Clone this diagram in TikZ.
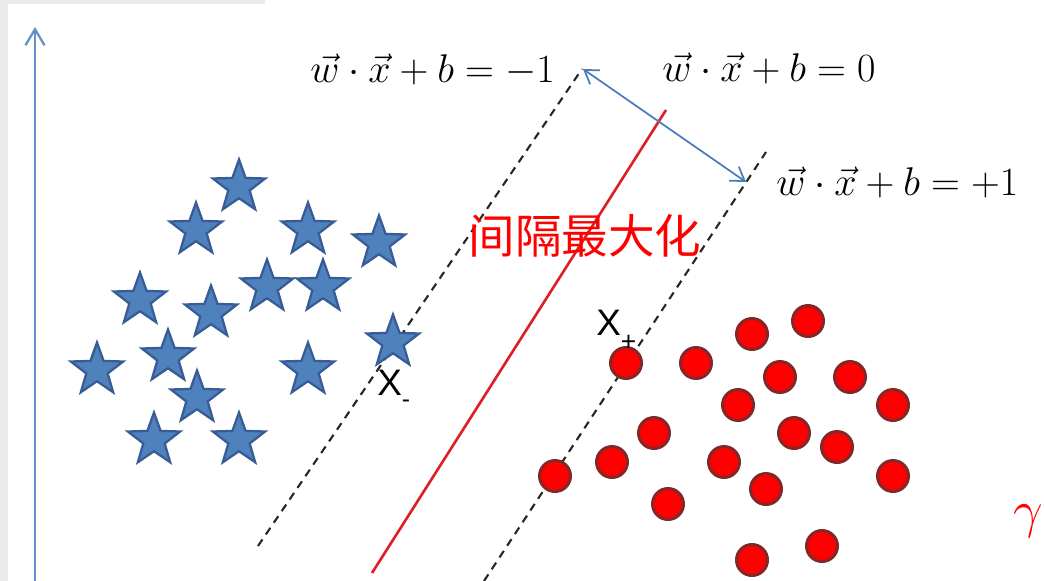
\RequirePackage{fix-cm}
\documentclass[tikz,border=0pt]{standalone}
\usepackage{fontspec}
\setsansfont{Liberation Sans}
\newfontfamily\cjk{Noto Sans CJK SC}
\usetikzlibrary{shapes.geometric,arrows.meta}
\definecolor{axisblue}{RGB}{104,142,202}
\definecolor{starfill}{RGB}{79,129,189}
\definecolor{starline}{RGB}{56,93,150}
\definecolor{dotline}{RGB}{130,40,40}
\definecolor{sepred}{RGB}{222,32,38}
\definecolor{arrblue}{RGB}{74,126,187}
\definecolor{margin}{RGB}{234,234,234}
\tikzset{
  starpt/.style={star, star points=5, star point ratio=2.45, inner sep=0pt, minimum size=1.1cm, fill=starfill, draw=starline, line width=1.3pt},
  dotpt/.style={circle, inner sep=0pt, minimum size=0.62cm, fill=red, draw=dotline, line width=1.7pt},
  eqlabel/.style={inner sep=0pt, font=\fontsize{22.8}{27}\selectfont},
  hyper/.style={dashed, dash pattern=on 4.5pt off 3.5pt, line width=1.2pt, black!85},
  xlabel/.style={inner sep=0pt, font=\sffamily\fontsize{21}{24}\selectfont, anchor=base west},
}
\begin{document}
\begin{tikzpicture}[x=0.02cm, y=-0.02cm]
\useasboundingbox (0,0) rectangle (1044,581);
\fill[white] (0,0) rectangle (1044,581);
\fill[margin] (0,0) rectangle (8,581);
\fill[margin] (0,0) rectangle (265,4);
% axis
\coordinate (ax0) at (35,581);
\coordinate (ax1) at (35,27);
\draw[axisblue, line width=1.3pt, -{Straight Barb[length=0.32cm,width=0.38cm,line width=1.3pt]}] (ax0) -- (ax1);
% hyperplanes
\coordinate (lm0) at (258,546);
\coordinate (lm1) at (582,69);
\coordinate (lp0) at (484,581);
\coordinate (lp1) at (766,152);
\coordinate (l00) at (372,573);
\coordinate (l01) at (666,110);
\draw[hyper] (lm0) -- (lm1);
\draw[hyper] (lp0) -- (lp1);
\draw[sepred, line width=1.5pt] (l00) -- (l01);
% margin arrow
\coordinate (ma0) at (583,69);
\coordinate (ma1) at (746,182);
\draw[arrblue, line width=1pt, {Straight Barb[length=0.26cm,width=0.34cm]}-{Straight Barb[length=0.26cm,width=0.34cm]}] (ma0) -- (ma1);
% labels
\node[eqlabel, anchor=base west] (eqm) at (310,83) {$\vec{w}\cdot\vec{x}+b=-1$};
\node[eqlabel, anchor=base west] (eq0) at (662,82) {$\vec{w}\cdot\vec{x}+b=0$};
\node[eqlabel, anchor=base west] (eqp) at (776,195) {$\vec{w}\cdot\vec{x}+b=+1$};
\node[inner sep=0pt, text=red, font=\cjk\fontsize{26.5}{30}\selectfont] (title) at (585,236) {间隔最大化};
\node[inner sep=0pt, text=red, font=\fontsize{30}{34}\selectfont] (gam) at (1028,521) {$\gamma$};
% stars
\foreach \n/\x/\y in {1/239/187,2/196/230,3/308/230,4/379/243,5/267/287,6/323/287,7/140/300,8/211/313,9/393/342,10/97/370,11/168/357,12/308/370,13/197/398,14/154/440,15/239/440}
  \node[starpt] (s\n) at (\x,\y) {};
% dots
\foreach \n/\x/\y in {1/626/363,2/696/363,3/752/334,4/808/321,5/780/377,6/850/377,7/738/405,8/893/405,9/654/433,10/794/433,11/837/447,12/612/462,13/724/462,14/555/476,15/766/489,16/893/476,17/668/504,18/752/560,19/822/546}
  \node[dotpt] (c\n) at (\x,\y) {};
% support vector labels
\node[xlabel] (xm) at (377,395) {X\raisebox{-0.35em}{\fontsize{14}{16}\selectfont -}};
\node[xlabel] (xp) at (596,335) {X\raisebox{-0.42em}{\fontsize{15}{16}\selectfont +}};
\end{tikzpicture}
\end{document}
